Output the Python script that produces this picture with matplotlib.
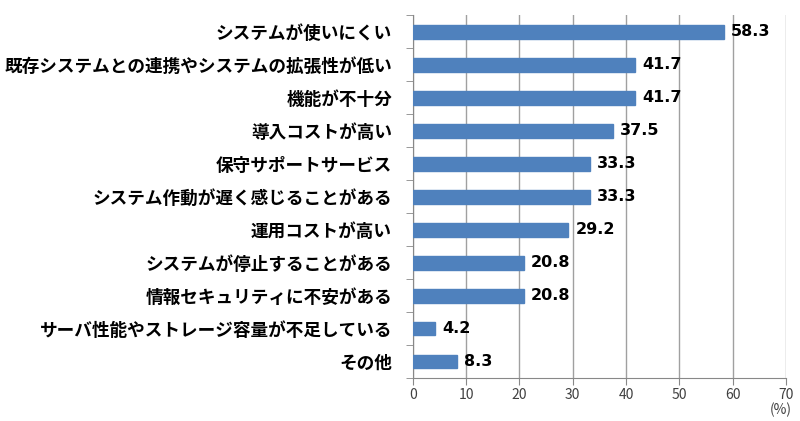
import matplotlib
matplotlib.use("Agg")
from matplotlib import pyplot as plt

plt.rcParams['font.family'] = ['Noto Sans CJK JP', 'DejaVu Sans']

categories = [
    'システムが使いにくい',
    '既存システムとの連携やシステムの拡張性が低い',
    '機能が不十分',
    '導入コストが高い',
    '保守サポートサービス',
    'システム作動が遅く感じることがある',
    '運用コストが高い',
    'システムが停止することがある',
    '情報セキュリティに不安がある',
    'サーバ性能やストレージ容量が不足している',
    'その他',
]
values = [58.3, 41.7, 41.7, 37.5, 33.3, 33.3, 29.2, 20.8, 20.8, 4.2, 8.3]
xticks = [0, 10, 20, 30, 40, 50, 60, 70]

fig = plt.figure(figsize=(8, 4.21), dpi=100)
ax = fig.add_axes([0.516, 0.102, 0.4665, 0.862])

n = len(categories)
pos = list(range(n))
ax.barh(pos, values, height=0.42, color='#4F81BD', edgecolor='#4F81BD', zorder=3)
for p, v in zip(pos, values):
    ax.text(v + 1.3, p, f'{v:.1f}', va='center', ha='left', fontsize=11.5,
            fontweight='bold', color='black', family='DejaVu Sans', zorder=4)

ax.set_ylim(n - 0.5, -0.5)
ax.set_xlim(0, 70)
ax.set_xticks(xticks)
ax.set_xticklabels([str(t) for t in xticks], fontsize=10, color='#404040')
ax.set_yticks(pos)
ax.set_yticklabels(categories, fontsize=12.7, fontweight='bold')
ax.tick_params(axis='y', length=0, pad=15)
ax.set_yticks([i - 0.5 for i in range(n + 1)], minor=True)
ax.tick_params(axis='y', which='minor', length=5, color='#888888', direction='out')
ax.tick_params(axis='x', length=5, color='#888888', direction='out', pad=2)
ax.grid(axis='x', color='#A0A0A0', linewidth=1, zorder=0)
for s in ['top', 'right']:
    ax.spines[s].set_visible(False)
ax.spines['left'].set_color('#888888')
ax.spines['bottom'].set_color('#888888')

fig.text(0.99, 0.008, '(%)', ha='right', va='bottom', fontsize=10, color='#404040')

fig.savefig('out.png', dpi=100)
